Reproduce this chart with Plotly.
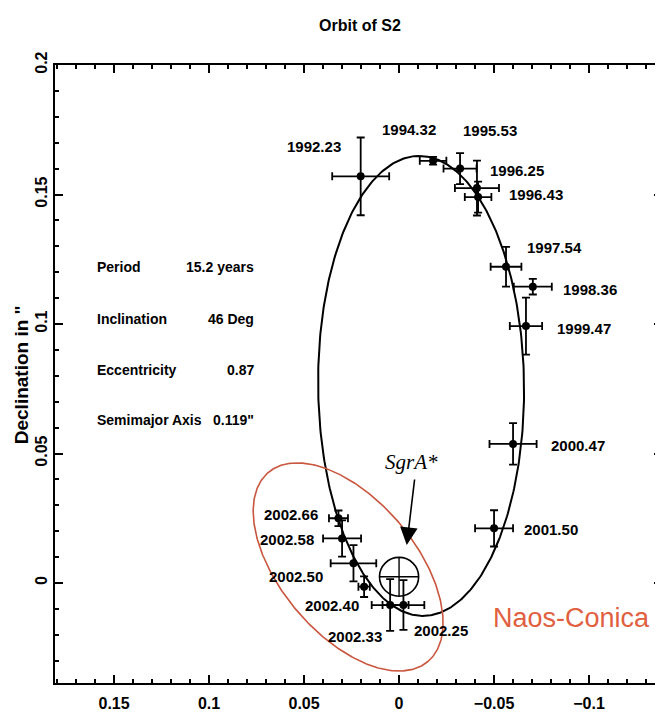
import numpy as np
import plotly.graph_objects as go

# ---- data ----
epochs = ["1992.23", "1994.32", "1995.53", "1996.25", "1996.43", "1997.54",
          "1998.36", "1999.47", "2000.47", "2001.50", "2002.25", "2002.33",
          "2002.40", "2002.50", "2002.58", "2002.66"]
ra = [0.0202, -0.0179, -0.0321, -0.0410, -0.0416, -0.0563, -0.0704, -0.0668,
      -0.0600, -0.0500, -0.0023, 0.0047, 0.0184, 0.0240, 0.0300, 0.0319]
dec = [0.157, 0.163, 0.160, 0.1525, 0.149, 0.1221, 0.1144, 0.0992,
       0.0537, 0.0211, -0.0085, -0.0085, -0.0014, 0.0076, 0.0172, 0.0250]
ra_err = [0.015, 0.007, 0.0087, 0.0116, 0.007, 0.0081, 0.010, 0.0085,
          0.0124, 0.010, 0.011, 0.0097, 0.003, 0.012, 0.010, 0.005]
dec_err = [0.015, 0.0015, 0.006, 0.0106, 0.006, 0.0077, 0.003, 0.011,
           0.008, 0.007, 0.0096, 0.010, 0.004, 0.007, 0.007, 0.003]

# fitted orbit (ellipse) parameters, arcsec
orbit_cx, orbit_cy = -0.0116, 0.0761
orbit_half_w, orbit_half_h, orbit_shear = 0.0542, 0.0888, 0.001

# SgrA* marker circle
sgr_x, sgr_y, sgr_rx, sgr_ry = 0.0, 0.0024, 0.0103, 0.0075

# Naos-Conica highlight ellipse (centre + conjugate half-axes)
nc_cx, nc_cy = 0.0268, 0.0062
nc_major = (-0.0420, -0.0365)
nc_minor = (0.0271, -0.0168)

x_tickvals = [0.15, 0.1, 0.05, 0, -0.05, -0.1]
x_ticktext = ["0.15", "0.1", "0.05", "0", "\u22120.05", "\u22120.1"]
y_tickvals = [0, 0.05, 0.1, 0.15, 0.2]
y_ticktext = ["0", "0.05", "0.1", "0.15", "0.2"]

params = [("Period", "15.2 years"), ("Inclination", "46 Deg"),
          ("Eccentricity", "0.87"), ("Semimajor Axis", "0.119\"")]
param_y = [0.122, 0.1021, 0.0822, 0.0629]

# label offsets in pixels (dx right, dy up)
label_shift = {
    "1992.23": (-47, 30), "1994.32": (-24, 31), "1995.53": (30, 38),
    "1996.25": (40, 18), "1996.43": (58, 3), "1997.54": (48, 19),
    "1998.36": (57, -3), "1999.47": (58, -2), "2000.47": (65, -2),
    "2001.50": (57, -1), "2002.25": (38, -25), "2002.33": (-35, -31),
    "2002.40": (-32, -19), "2002.50": (-57, -13), "2002.58": (-55, -1),
    "2002.66": (-47, 4),
}

FONT = "Liberation Sans, Arial, sans-serif"

fig = go.Figure()

t = np.linspace(0, 2 * np.pi, 400)
fig.add_trace(go.Scatter(
    x=orbit_cx + orbit_shear * np.cos(t) - orbit_half_w * np.sin(t),
    y=orbit_cy + orbit_half_h * np.cos(t),
    mode="lines", line=dict(color="black", width=2), hoverinfo="skip"))

fig.add_trace(go.Scatter(
    x=nc_cx + nc_major[0] * np.cos(t) + nc_minor[0] * np.sin(t),
    y=nc_cy + nc_major[1] * np.cos(t) + nc_minor[1] * np.sin(t),
    mode="lines", line=dict(color="#c9563f", width=1.6), hoverinfo="skip"))

fig.add_trace(go.Scatter(
    x=ra, y=dec, mode="markers",
    marker=dict(color="black", size=8),
    error_x=dict(type="data", array=ra_err, color="black", thickness=1.8, width=4),
    error_y=dict(type="data", array=dec_err, color="black", thickness=1.8, width=4),
    hoverinfo="skip"))

shapes = [
    dict(type="circle", xref="x", yref="y", x0=sgr_x - sgr_rx, x1=sgr_x + sgr_rx,
         y0=sgr_y - sgr_ry, y1=sgr_y + sgr_ry, line=dict(color="black", width=1.6)),
    dict(type="line", xref="x", yref="y", x0=sgr_x - sgr_rx, x1=sgr_x + sgr_rx,
         y0=sgr_y, y1=sgr_y, line=dict(color="black", width=1.4)),
    dict(type="line", xref="x", yref="y", x0=sgr_x, x1=sgr_x,
         y0=sgr_y - sgr_ry, y1=sgr_y + sgr_ry, line=dict(color="black", width=1.4)),
]

ann = []
for e, x, y in zip(epochs, ra, dec):
    dx, dy = label_shift[e]
    ann.append(dict(x=x, y=y, xref="x", yref="y", text=e, showarrow=False,
                    xshift=dx, yshift=dy,
                    font=dict(family=FONT, size=15, color="black", weight="bold")))

pfont = dict(family=FONT, size=14, color="black", weight="bold")
for (name, val), py in zip(params, param_y):
    ann.append(dict(x=0.160, y=py, xref="x", yref="y", text=name, showarrow=False,
                    xanchor="left", font=pfont))
    ann.append(dict(x=0.0752, y=py, xref="x", yref="y", text=val, showarrow=False,
                    xanchor="right", font=pfont))

ann.append(dict(x=-0.0068, y=0.0467, xref="x", yref="y", text="<i>SgrA*</i>",
                showarrow=False, font=dict(family="Liberation Serif, Times New Roman, serif",
                                           size=21, color="black")))
ann.append(dict(x=-0.00405, y=0.01467, xref="x", yref="y", text="", showarrow=True,
                ax=8, ay=-67, arrowhead=2, arrowwidth=1.6, arrowsize=2.2,
                arrowcolor="black", standoff=0))
ann.append(dict(x=-0.0905, y=-0.0135, xref="x", yref="y", text="Naos-Conica",
                showarrow=False, font=dict(family=FONT, size=27, color="#e0603f")))
ann.append(dict(x=0.5025, y=1.0647, xref="paper", yref="paper", text="Orbit of S2",
                xanchor="center", yanchor="middle", showarrow=False,
                font=dict(family=FONT, size=16, color="black", weight="bold")))
ann.append(dict(x=-0.056, y=0.498, xref="paper", yref="paper", text="Declination in \"",
                xanchor="center", yanchor="middle", showarrow=False, textangle=-90,
                font=dict(family=FONT, size=19, color="black", weight="bold")))

axis_common = dict(
    ticks="inside", ticklen=8, tickwidth=1.5, tickcolor="black",
    showline=True, linecolor="black", linewidth=2, mirror="ticks",
    showgrid=False, zeroline=False, automargin=False,
    tickfont=dict(family=FONT, size=16, color="black", weight="bold"),
)

fig.update_xaxes(range=[0.1811, -0.1384], tickmode="array", tickvals=x_tickvals,
                 ticktext=x_ticktext, ticklabelstandoff=5,
                 minor=dict(tickmode="linear", tick0=0, dtick=0.01, ticks="inside",
                            ticklen=4, tickwidth=1.5, tickcolor="black", showgrid=False),
                 **axis_common)
fig.update_yaxes(range=[-0.0386, 0.2], tickmode="array", tickvals=y_tickvals,
                 ticktext=y_ticktext, tickangle=-90,
                 minor=dict(tickmode="linear", tick0=0, dtick=0.01, ticks="inside",
                            ticklen=4, tickwidth=1.5, tickcolor="black", showgrid=False),
                 **axis_common)

# the page body adds an 8px offset, so the figure is 8px smaller and shifted
fig.update_layout(
    width=655, height=705,
    margin=dict(l=47, r=1, t=57, b=30, autoexpand=False),
    paper_bgcolor="white", plot_bgcolor="white",
    showlegend=False, shapes=shapes, annotations=ann,
)

fig.write_html("out.html")
